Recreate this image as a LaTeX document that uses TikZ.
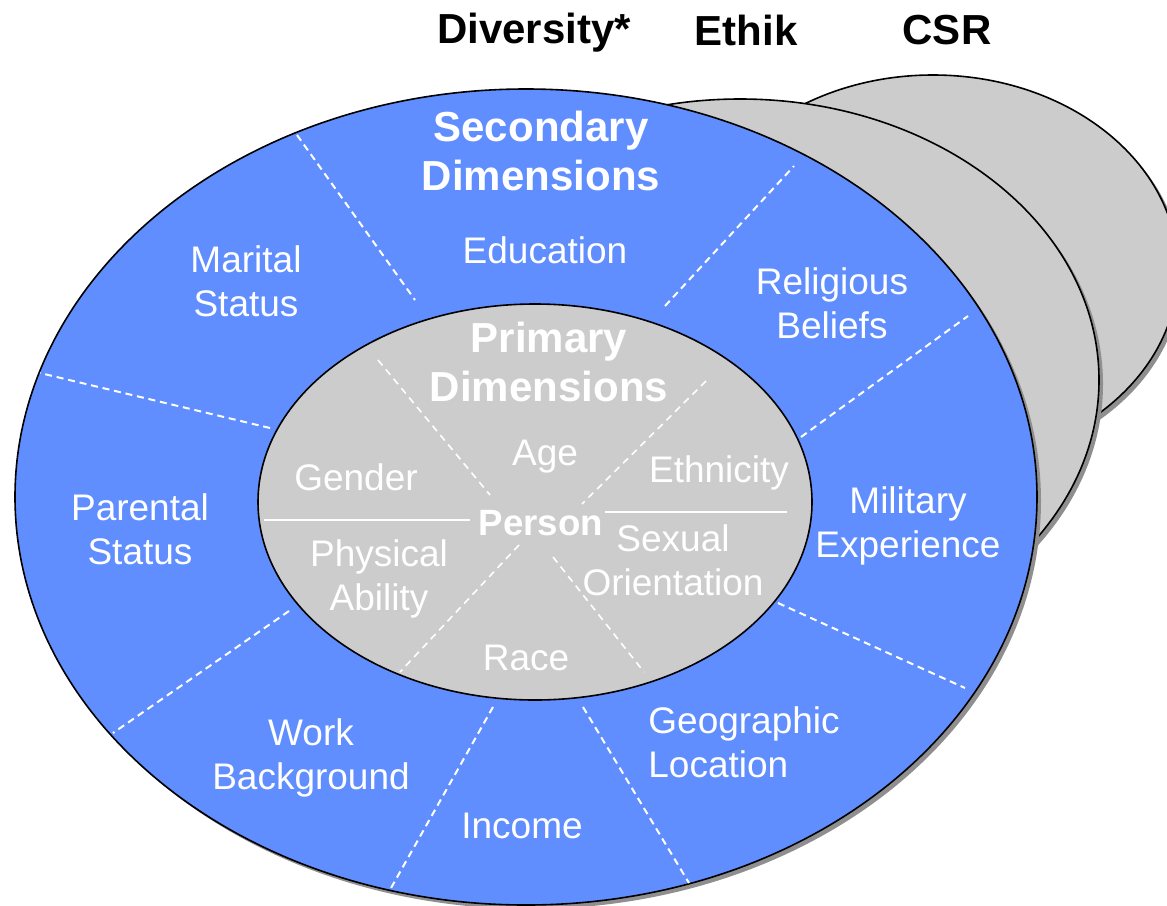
\documentclass[tikz,border=0pt]{standalone}
\usepackage{fontspec}
\setmainfont{Liberation Sans}
\definecolor{ringblue}{HTML}{608EFF}
\definecolor{coregray}{HTML}{CCCCCC}
\definecolor{shadowgray}{HTML}{8F8F8F}
\begin{document}
\begin{tikzpicture}[x=0.5pt,y=-0.5pt,
  outline/.style={draw=black, line width=0.8pt},
  shade/.style={fill=shadowgray},
  divider/.style={draw=white, line width=1pt, dash pattern=on 3.5pt off 2.4pt},
  innerdivider/.style={draw=white, line width=0.8pt, dash pattern=on 3.5pt off 2.6pt},
  cutline/.style={draw=white, line width=0.8pt},
  lbl/.style={text=white, font=\fontsize{18.5}{22}\selectfont, align=center, inner sep=0pt},
  headlbl/.style={text=black, font=\fontsize{21}{25}\selectfont\bfseries, inner sep=0pt},
  dimlbl/.style={text=white, font=\fontsize{21}{24.7}\selectfont\bfseries, align=center, inner sep=0pt}
]
\clip (0,0) rectangle (1167,905);
\fill[white] (0,0) rectangle (1167,905);

% back ellipse (CSR)
\fill[shade] (937,274) ellipse [x radius=245, y radius=195];
\filldraw[fill=coregray, outline] (933,270) ellipse [x radius=245, y radius=195];
% middle ellipse (Ethik)
\fill[shade] (744,384) ellipse [x radius=359, y radius=281];
\filldraw[fill=coregray, outline] (740,380) ellipse [x radius=359, y radius=281];
% main ellipse (Diversity)
\fill[shade] (530,501) ellipse [x radius=511, y radius=408];
\filldraw[fill=ringblue, outline] (526,497) ellipse [x radius=511, y radius=408];
% inner ellipse
\filldraw[fill=coregray, outline] (535,502) ellipse [x radius=277, y radius=198];

% outer ring dividers
\draw[divider] (297,135) -- (415,300);
\draw[divider] (665,306) -- (794,166);
\draw[divider] (801,437) -- (968,316);
\draw[divider] (778,603) -- (965,688);
\draw[divider] (583,707) -- (689,883);
\draw[divider] (493,707) -- (391,888);
\draw[divider] (289,611) -- (113,733);
\draw[divider] (270,428) -- (40,373);

% inner dividers
\draw[innerdivider] (378,360) -- (490,495);
\draw[innerdivider] (706,381) -- (582,504);
\draw[innerdivider] (519,545) -- (400,672);
\draw[innerdivider] (553,557) -- (644,672);
\draw[cutline] (264,520) -- (470,520);
\draw[cutline] (605,512) -- (787,512);

% headings
\node[headlbl] (hdiv) at (534,33) {Diversity*};
\node[headlbl] (heth) at (746,30) {Ethik};
\node[headlbl] (hcsr) at (947,30) {CSR};

% secondary dimensions
\node[dimlbl] (sec) at (541,151) {Secondary\\Dimensions};
\node[lbl] (edu) at (545,250) {Education};
\node[lbl] (mar) at (246,281) {Marital\\Status};
\node[lbl] (rel) at (832,303) {Religious\\Beliefs};
\node[lbl] (par) at (140,529) {Parental\\Status};
\node[lbl] (mil) at (908,526) {Military\\Experience};
\node[lbl] (work) at (311,758) {Work\\Background};
\node[lbl] (inc) at (522,826) {Income};
\node[lbl, align=left, anchor=west] (geo) at (648,742) {Geographic\\Location};

% primary dimensions
\node[dimlbl] (pri) at (549,362) {Primary\\Dimensions};
\node[lbl] (age) at (545,457) {Age};
\node[lbl] (gen) at (356,477) {Gender};
\node[lbl] (eth) at (719,473) {Ethnicity};
\node[lbl, font=\fontsize{18.3}{22}\selectfont\bfseries] (per) at (541,523) {Person};
\node[lbl] (phy) at (379,579) {Physical\\Ability};
\node[lbl] (sex) at (673,560) {Sexual\\Orientation};
\node[lbl] (race) at (526,658) {Race};
\end{tikzpicture}
\end{document}
